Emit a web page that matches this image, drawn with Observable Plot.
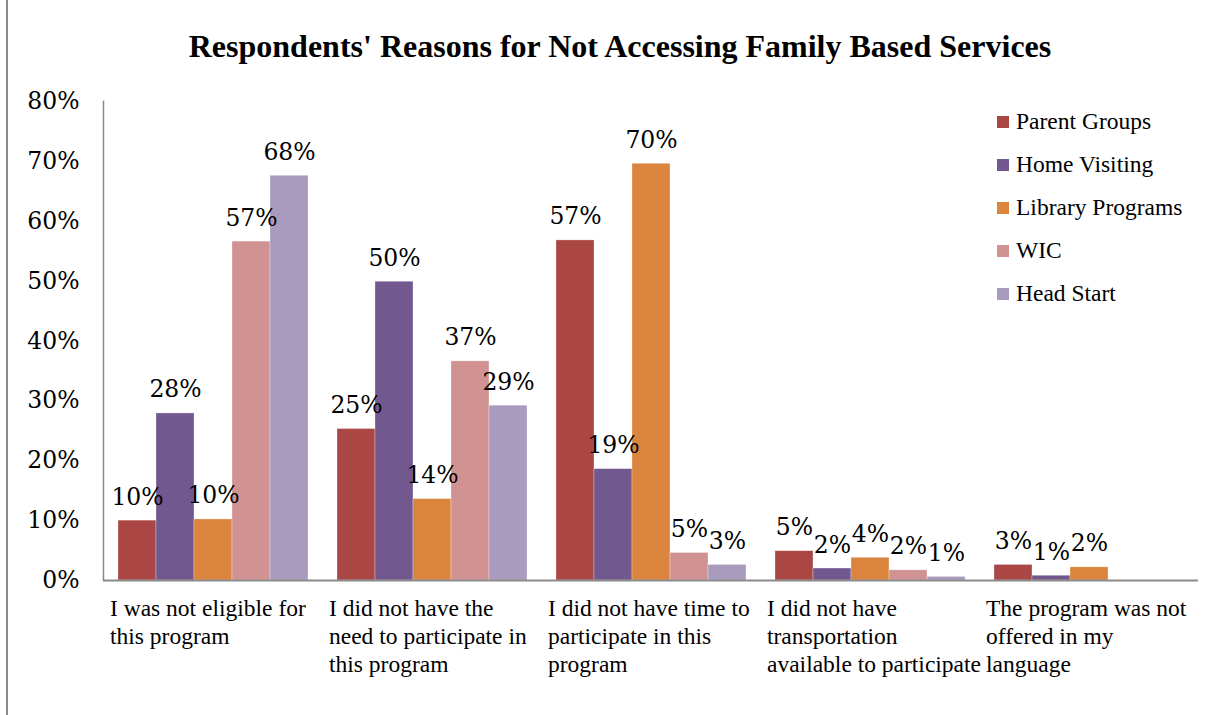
<!DOCTYPE html>
<html><head><meta charset="utf-8">
<script src="https://cdn.jsdelivr.net/npm/d3@7"></script>
<script src="https://cdn.jsdelivr.net/npm/@observablehq/plot@0.6"></script>
<style>
body{margin:0;background:#fff;}
#wrap{position:relative;width:1226px;height:715px;overflow:hidden;background:#fff;}
#frameLeft{position:absolute;left:6px;top:0;width:2px;height:715px;background:#8c8c8c;}
#title{height:80px;box-sizing:border-box;padding-top:28px;padding-left:14px;line-height:32px;font:bold 32px "Liberation Serif","Times New Roman",serif;text-align:center;color:#000;white-space:nowrap;}
#legend{position:absolute;left:997px;top:100px;font:23.5px "Liberation Serif","Times New Roman",serif;color:#000;}
#legend .row{height:43px;line-height:43px;white-space:nowrap;}
#legend .sw{display:inline-block;width:12px;height:12px;margin-right:7px;vertical-align:middle;position:relative;top:-2px;}
svg{display:block;}
</style></head>
<body>
<div id="wrap">
  <div id="frameLeft"></div>
  <div id="title">Respondents' Reasons for Not Accessing Family Based Services</div>
  <div id="chart"></div>
  <div id="legend"></div>
</div>
<script>
const categories = [
  "I was not eligible for\nthis program",
  "I did not have the\nneed to participate in\nthis program",
  "I did not have time to\nparticipate in this\nprogram",
  "I did not have\ntransportation\navailable to participate",
  "The program was not\noffered in my\nlanguage"
];
const series = ["Parent Groups", "Home Visiting", "Library Programs", "WIC", "Head Start"];
const colors = ["#AA4643", "#71588F", "#DB843D", "#D19392", "#A99BBD"];

const parentGroups    = [10.0, 25.3, 56.8, 4.9, 2.6];
const homeVisiting    = [27.9, 49.9, 18.6, 2.0, 0.8];
const libraryPrograms = [10.2, 13.6, 69.6, 3.8, 2.2];
const wic             = [56.6, 36.6, 4.6, 1.7, null];
const headStart       = [67.6, 29.2, 2.6, 0.6, null];

const yTicks = [0, 10, 20, 30, 40, 50, 60, 70, 80];

const seriesValues = [parentGroups, homeVisiting, libraryPrograms, wic, headStart];
const data = [];
categories.forEach((c, i) => {
  series.forEach((s, j) => {
    const v = seriesValues[j][i];
    if (v != null) data.push({cat: c, series: s, value: v});
  });
});

const serif = "'DejaVu Serif', serif";
const times = "'Liberation Serif', 'Times New Roman', serif";

const chart = Plot.plot({
  width: 1226,
  height: 635,
  marginTop: 21,
  marginBottom: 135,
  marginLeft: 103,
  marginRight: 28,
  fx: {domain: categories, padding: 0, axis: null, label: null},
  x: {domain: series, paddingInner: 0, paddingOuter: 0.33, axis: null, label: null},
  y: {domain: [0, 80], axis: null, label: null},
  color: {domain: series, range: colors},
  style: {background: "#fff", overflow: "visible"},
  marks: [
    Plot.barY(data, {fx: "cat", x: "series", y: "value", fill: "series", stroke: "#fff", strokeWidth: 0.6, strokeOpacity: 0.5}),
    Plot.text(data, {fx: "cat", x: "series", y: "value", text: d => Math.round(d.value) + "%", dy: -16, lineAnchor: "bottom", fontSize: 23.5, fontFamily: serif, fill: "#000"}),
    Plot.frame({anchor: "left", facetAnchor: "left", stroke: "#8a8a8a", strokeWidth: 1.5}),
    Plot.ruleY([0], {stroke: "#8a8a8a", strokeWidth: 2}),
    Plot.axisY({ticks: yTicks, tickSize: 0, tickPadding: 24, tickFormat: d => d + "%", fontSize: 23.5, fontFamily: serif, fill: "#000", label: null}),
    Plot.axisFx({anchor: "bottom", tickSize: 0, tickPadding: 16, textAnchor: "start", dx: -103, lineAnchor: "top", lineHeight: 1.19, fontSize: 23.5, fontFamily: times, fill: "#000", label: null})
  ]
});
document.getElementById("chart").appendChild(chart);

const legend = document.getElementById("legend");
series.forEach((s, i) => {
  const row = document.createElement("div");
  row.className = "row";
  const sw = document.createElement("span");
  sw.className = "sw";
  sw.style.background = colors[i];
  row.appendChild(sw);
  row.appendChild(document.createTextNode(s));
  legend.appendChild(row);
});
</script>
</body></html>
